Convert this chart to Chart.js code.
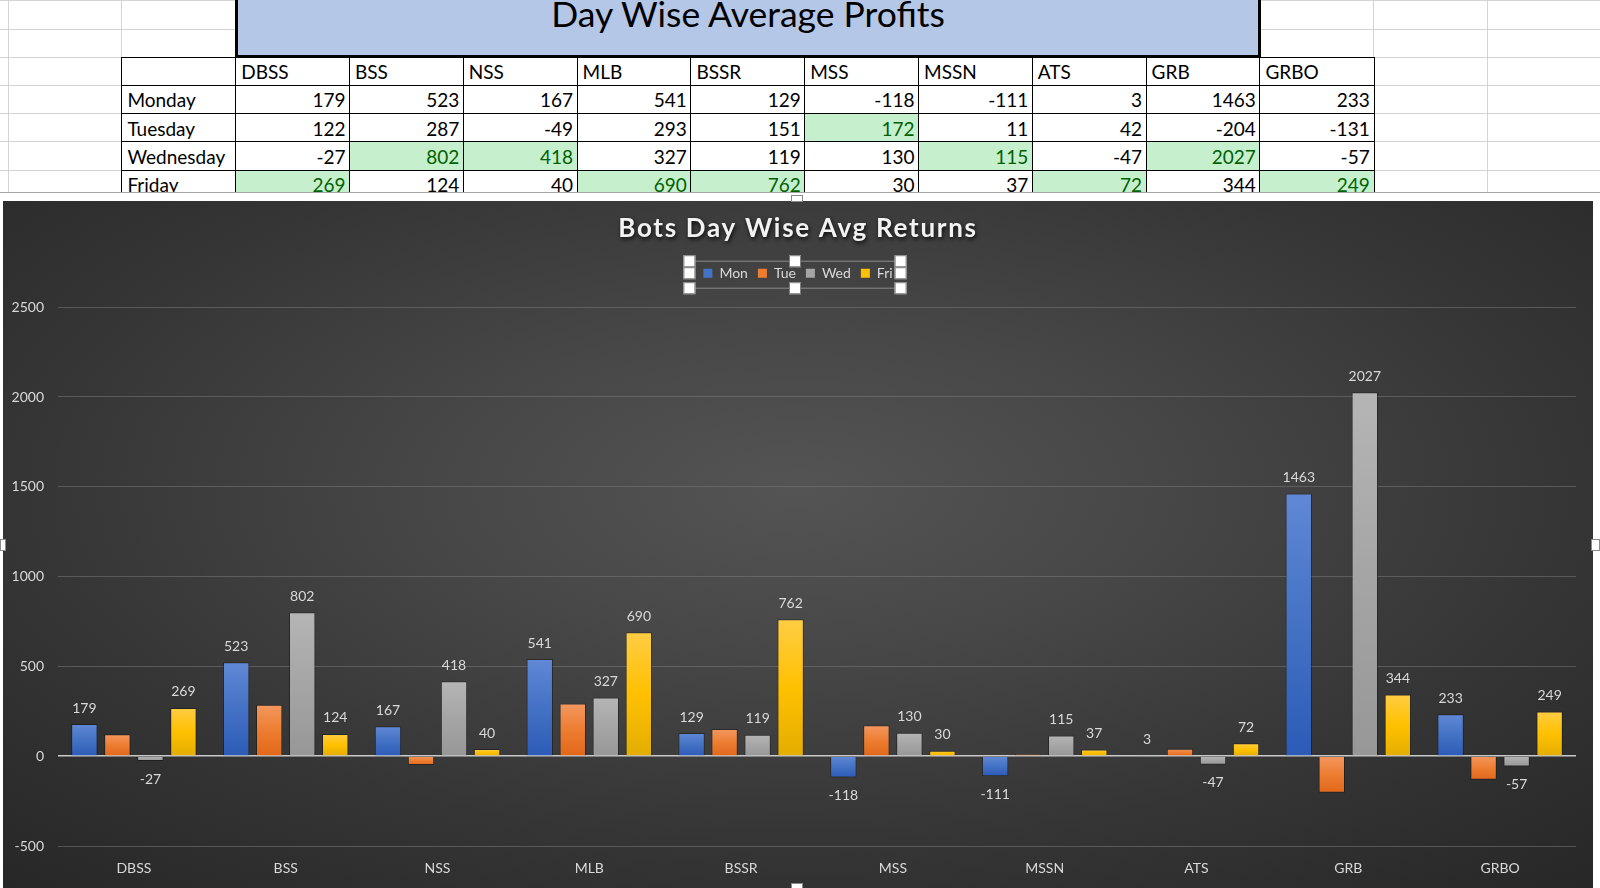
<!DOCTYPE html>
<html>
<head>
<meta charset="utf-8">
<script src="https://cdn.jsdelivr.net/npm/chart.js@4.4.1/dist/chart.umd.min.js"></script>
<style>
  html, body { margin: 0; padding: 0; background: #ffffff; }
  body { width: 1600px; height: 888px; position: relative; overflow: hidden; font-family: Lato, "Open Sans", sans-serif; }
  .gl { position: absolute; background: #d4d4d4; }
  .cell { position: absolute; box-sizing: border-box; background: #fff; font-size: 19px; color: #000; display: flex; align-items: center; white-space: nowrap; overflow: hidden; }
  .cell.l { justify-content: flex-start; padding-left: 5px; }
  .cell.r { justify-content: flex-end; padding-right: 4px; }
  .cell.hi { background: #c6efce; color: #006100; }
  #sheetTitle { position: absolute; box-sizing: border-box; background: #b4c7e7; border-left: 3px solid #000; border-right: 3px solid #000; border-bottom: 3px solid #000; font-size: 35.5px; color: #000; text-align: center; }
  #chartWrap { position: absolute; left: 3px; top: 201px; width: 1590px; height: 687px;
    background: radial-gradient(ellipse 75% 80% at 50% 42%, #545454 0%, #474747 30%, #353535 65%, #262626 100%); }
  #chart { display: block; }
  .frame { position: absolute; background: #fff; }
  .hd { position: absolute; background: #fff; border: 1px solid #8a8a8a; box-sizing: border-box; }
</style>
</head>
<body>
<div id="sheet"></div>
<div class="frame" style="left:0;top:192px;width:1600px;height:9px;border-top:1px solid #a6a6a6;box-sizing:border-box;"></div>
<div id="chartWrap"><canvas id="chart" width="1590" height="687"></canvas></div>
<div class="hd" style="left:791px;top:195px;width:12px;height:7px;"></div>
<div class="hd" style="left:0px;top:539px;width:6px;height:12px;"></div>
<div class="hd" style="left:1591px;top:539px;width:9px;height:12px;"></div>
<div class="hd" style="left:791px;top:883px;width:12px;height:7px;"></div>
<script>
// ---------------- data ----------------
const categories = ['DBSS', 'BSS', 'NSS', 'MLB', 'BSSR', 'MSS', 'MSSN', 'ATS', 'GRB', 'GRBO'];
const dayNames = ['Monday', 'Tuesday', 'Wednesday', 'Friday'];
const seriesNames = ['Mon', 'Tue', 'Wed', 'Fri'];
const monValues = [179, 523, 167, 541, 129, -118, -111, 3, 1463, 233];
const tueValues = [122, 287, -49, 293, 151, 172, 11, 42, -204, -131];
const wedValues = [-27, 802, 418, 327, 119, 130, 115, -47, 2027, -57];
const friValues = [269, 124, 40, 690, 762, 30, 37, 72, 344, 249];
const labeledSeries = [true, false, true, true];
const yMin = -500;
const yMax = 2500;
const yStep = 500;
const sheetTitle = 'Day Wise Average Profits';
const chartTitle = 'Bots Day Wise Avg Returns';

const allSeries = [monValues, tueValues, wedValues, friValues];

// ---------------- spreadsheet ----------------
(function buildSheet() {
  const sheet = document.getElementById('sheet');
  const colX0 = 121.4, colW = 113.8, rowY0 = 0.4, rowH = 28.2;
  const vxs = [8];
  for (let k = 0; k < 14; k++) vxs.push(colX0 + k * colW);
  vxs.forEach(x => {
    const d = document.createElement('div'); d.className = 'gl';
    d.style.cssText = `left:${x}px;top:0;width:1px;height:193px;`; sheet.appendChild(d);
  });
  for (let r = 0; r < 8; r++) {
    const d = document.createElement('div'); d.className = 'gl';
    d.style.cssText = `left:0;top:${rowY0 + r * rowH}px;width:1600px;height:1px;`; sheet.appendChild(d);
  }
  const t = document.createElement('div'); t.id = 'sheetTitle';
  const tx = colX0 + colW, tw = colW * 9;
  t.style.left = tx + 'px'; t.style.top = '-2px'; t.style.width = (tw + 1.5) + 'px'; t.style.height = (rowY0 + 2 * rowH + 3.5) + 'px';
  t.style.lineHeight = '31px';
  t.textContent = sheetTitle;
  sheet.appendChild(t);
  const tableTop = rowY0 + 2 * rowH;
  const maxPerCol = categories.map((c, j) => Math.max(...allSeries.map(s => s[j])));
  function addCell(col, row, text, cls) {
    const d = document.createElement('div');
    d.className = 'cell ' + cls;
    const x = colX0 + col * colW, y = tableTop + row * rowH;
    d.style.left = x + 'px'; d.style.top = y + 'px';
    d.style.width = (colW + 1.5) + 'px'; d.style.height = (rowH + 1.5) + 'px';
    d.style.border = '1.5px solid #000';
    d.textContent = text;
    sheet.appendChild(d);
  }
  addCell(0, 0, '', 'l');
  categories.forEach((c, j) => addCell(j + 1, 0, c, 'l'));
  dayNames.forEach((dn, i) => {
    addCell(0, i + 1, dn, 'l');
    categories.forEach((c, j) => {
      const v = allSeries[i][j];
      addCell(j + 1, i + 1, String(v), 'r' + (v === maxPerCol[j] ? ' hi' : ''));
    });
  });
})();

// ---------------- chart ----------------
const gradStops = [
  ['#6088d6', '#4472c4', '#2c5bb8'],
  ['#f3975f', '#ed7d31', '#e0671a'],
  ['#b5b5b5', '#a5a5a5', '#979797'],
  ['#ffcd44', '#ffc000', '#e3ad00']
];
const solidColors = ['#4472c4', '#ed7d31', '#a5a5a5', '#ffc000'];

function barFill(i) {
  return function (c) {
    const chart = c.chart;
    const ys = chart.scales && chart.scales.y;
    if (!chart.chartArea || !ys || c.raw === undefined) return solidColors[i];
    const p1 = ys.getPixelForValue(c.raw), p0 = ys.getPixelForValue(0);
    const top = Math.min(p1, p0), bot = Math.max(p1, p0);
    if (bot - top < 1) return solidColors[i];
    const g = chart.ctx.createLinearGradient(0, top, 0, bot);
    g.addColorStop(0, gradStops[i][0]);
    g.addColorStop(0.5, gradStops[i][1]);
    g.addColorStop(1, gradStops[i][2]);
    return g;
  };
}

const dataLabelPlugin = {
  id: 'dataLabelPlugin',
  afterDatasetsDraw(chart) {
    const ctx = chart.ctx;
    ctx.save();
    ctx.font = '14px Lato, "Open Sans", sans-serif';
    ctx.fillStyle = '#d9d9d9';
    ctx.textAlign = 'center';
    ctx.textBaseline = 'middle';
    chart.data.datasets.forEach((ds, i) => {
      if (!labeledSeries[i]) return;
      const meta = chart.getDatasetMeta(i);
      meta.data.forEach((bar, j) => {
        const v = ds.data[j];
        const y = v >= 0 ? bar.y - 16 : bar.y + 18;
        ctx.fillText(String(v), bar.x, y);
      });
    });
    ctx.restore();
  }
};

const legendExtras = {
  id: 'legendExtras',
  beforeInit(chart) {
    const lg = chart.legend;
    const origFit = lg.fit;
    lg.fit = function () { origFit.call(this); this.height += 17; };
    const tb = chart.titleBlock;
    const origDraw = tb.draw;
    tb.draw = function (a) {
      const ctx = chart.ctx;
      ctx.save();
      ctx.letterSpacing = '1.7px';
      ctx.shadowColor = 'rgba(0,0,0,0.85)';
      ctx.shadowBlur = 4; ctx.shadowOffsetX = 1; ctx.shadowOffsetY = 2;
      origDraw.call(this, a);
      ctx.restore();
    };
  },
  afterDraw(chart) {
    const hb = chart.legend.legendHitBoxes;
    if (!hb || !hb.length) return;
    const ctx = chart.ctx;
    const left = hb[0].left - 14;
    const last = hb[hb.length - 1];
    const right = last.left + last.width + 8;
    const cy = hb[0].top + hb[0].height / 2;
    const top = cy - 12, bot = cy + 15;
    const mid = (left + right) / 2;
    ctx.save();
    ctx.strokeStyle = '#8c8c8c';
    ctx.lineWidth = 1;
    ctx.beginPath();
    ctx.moveTo(left, top); ctx.lineTo(right, top);
    ctx.moveTo(left, bot); ctx.lineTo(right, bot);
    ctx.stroke();
    [left, mid, right].forEach(x => {
      [top, cy, bot].forEach(y => {
        if (x === mid && y === cy) return;
        ctx.fillStyle = '#ffffff';
        ctx.fillRect(x - 6, y - 6, 12, 12);
        ctx.strokeStyle = '#7f7f7f';
        ctx.strokeRect(x - 6 + 0.5, y - 6 + 0.5, 11, 11);
      });
    });
    ctx.restore();
  }
};

new Chart(document.getElementById('chart'), {
  type: 'bar',
  data: {
    labels: categories,
    datasets: allSeries.map((vals, i) => ({
      label: seriesNames[i],
      data: vals,
      backgroundColor: barFill(i),
      borderColor: 'rgba(0,0,0,0.35)',
      borderWidth: 1,
      categoryPercentage: 0.87,
      barPercentage: 0.8
    }))
  },
  options: {
    responsive: false,
    animation: false,
    layout: { padding: { left: 0, right: 0, top: 0, bottom: 0 } },
    plugins: {
      title: {
        display: true,
        text: chartTitle,
        color: '#f2f2f2',
        font: { family: 'Lato, "Open Sans", sans-serif', size: 26, weight: 'bold' },
        padding: { top: 12, bottom: 12 }
      },
      legend: {
        display: true,
        position: 'top',
        labels: {
          color: '#d9d9d9',
          font: { family: 'Lato, "Open Sans", sans-serif', size: 14 },
          boxWidth: 9,
          boxHeight: 9,
          padding: 10,
          generateLabels(chart) {
            return chart.data.datasets.map((ds, i) => ({
              text: ds.label,
              fillStyle: solidColors[i],
              strokeStyle: solidColors[i],
              lineWidth: 0,
              fontColor: '#d9d9d9',
              hidden: false,
              datasetIndex: i
            }));
          }
        }
      },
      tooltip: { enabled: false }
    },
    scales: {
      x: {
        grid: { display: false },
        border: { display: false },
        ticks: { color: '#d9d9d9', font: { family: 'Lato, "Open Sans", sans-serif', size: 14 }, padding: 6 },
        afterFit(s) { s.height = 42; }
      },
      y: {
        min: yMin,
        max: yMax,
        ticks: {
          stepSize: yStep, color: '#d9d9d9', font: { family: 'Lato, "Open Sans", sans-serif', size: 14 }, padding: 14,
          callback: v => String(v)
        },
        grid: {
          drawTicks: false,
          color: c => (c.tick && c.tick.value === 0) ? '#c9c9c9' : 'rgba(120,120,120,0.55)',
          lineWidth: c => (c.tick && c.tick.value === 0) ? 1.6 : 1
        },
        border: { display: false },
        afterFit(s) { s.width = 55; }
      },
      yRightSpace: {
        type: 'linear',
        position: 'right',
        min: yMin,
        max: yMax,
        display: true,
        ticks: { display: false },
        grid: { display: false, drawTicks: false },
        border: { display: false },
        afterFit(s) { s.width = 17; }
      }
    }
  },
  plugins: [dataLabelPlugin, legendExtras]
});
</script>
</body>
</html>
